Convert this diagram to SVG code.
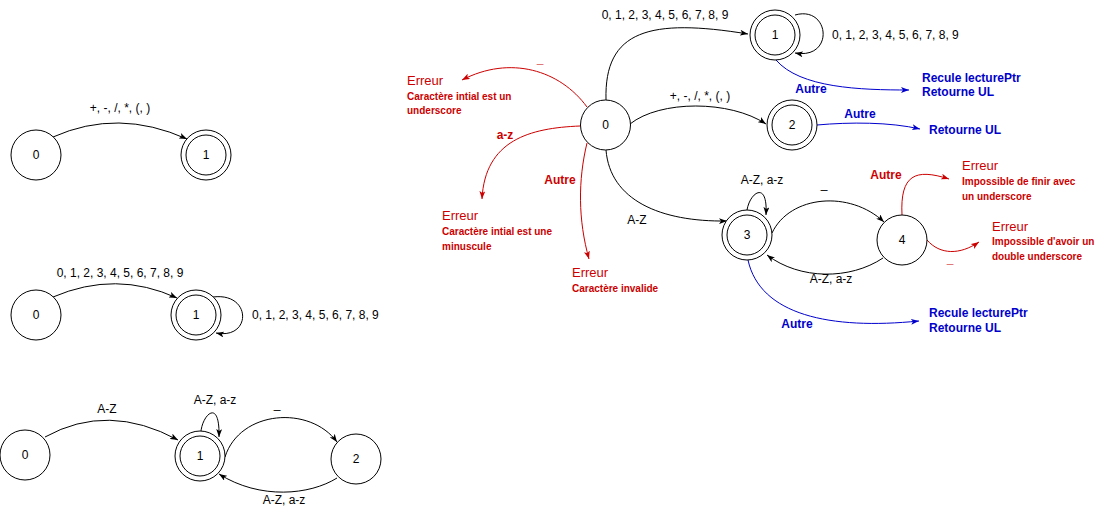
<svg xmlns="http://www.w3.org/2000/svg" width="1111" height="510" viewBox="0 0 1111 510">
<style>
  .bg { fill: #ffffff; }
  .st { fill: #ffffff; stroke: #000000; stroke-width: 1; }
  .in { fill: none; stroke: #000000; stroke-width: 1; }
  .nl { font-family: "Liberation Sans", Arial, sans-serif; font-size: 12px; fill: #000000; text-anchor: middle; }
  .e { fill: none; stroke: #000000; stroke-width: 1; marker-end: url(#ab); }
  .er { fill: none; stroke: #CC0000; stroke-width: 1; marker-end: url(#ar); }
  .eb { fill: none; stroke: #0000CC; stroke-width: 1; marker-end: url(#au); }
  .lb { font-family: "Liberation Sans", Arial, sans-serif; font-size: 12px; fill: #000000; text-anchor: middle; }
  .lr { font-family: "Liberation Sans", Arial, sans-serif; font-size: 12px; font-weight: bold; fill: #CC0000; text-anchor: middle; }
  .lu { font-family: "Liberation Sans", Arial, sans-serif; font-size: 12px; font-weight: bold; fill: #0000CC; text-anchor: middle; }
  .tu { font-family: "Liberation Sans", Arial, sans-serif; font-size: 12px; font-weight: bold; fill: #0000CC; }
  .th { font-family: "Liberation Sans", Arial, sans-serif; font-size: 13px; fill: #CC0000; }
  .ts { font-family: "Liberation Sans", Arial, sans-serif; font-size: 10px; font-weight: bold; fill: #CC0000; }
</style>
<defs>
  <marker id="ab" viewBox="0 0 8 6" refX="8" refY="3" markerWidth="8" markerHeight="6" markerUnits="userSpaceOnUse" orient="auto">
    <path d="M0,0 L8,3 L0,6 L2,3 z" fill="#000000"/>
  </marker>
  <marker id="ar" viewBox="0 0 8 6" refX="8" refY="3" markerWidth="8" markerHeight="6" markerUnits="userSpaceOnUse" orient="auto">
    <path d="M0,0 L8,3 L0,6 L2,3 z" fill="#CC0000"/>
  </marker>
  <marker id="au" viewBox="0 0 8 6" refX="8" refY="3" markerWidth="8" markerHeight="6" markerUnits="userSpaceOnUse" orient="auto">
    <path d="M0,0 L8,3 L0,6 L2,3 z" fill="#0000CC"/>
  </marker>
</defs>
<rect class="bg" x="0" y="0" width="1111" height="510"/>

<g id="connectors">
  <!-- diagram A -->
  <path class="e" d="M53,137 Q118,108 187,139"/>
  <text class="lb" x="120" y="112">+, -, /, *, (, )</text>
  <!-- diagram B -->
  <path class="e" d="M53,297 Q116,270 177,298"/>
  <text class="lb" x="120" y="277">0, 1, 2, 3, 4, 5, 6, 7, 8, 9</text>
  <path class="e" d="M213,297 C252,292 252,340 216,333"/>
  <text class="lb" x="252" y="319" style="text-anchor:start">0, 1, 2, 3, 4, 5, 6, 7, 8, 9</text>
  <!-- diagram C -->
  <path class="e" d="M45,437 Q108,402 178,440"/>
  <text class="lb" x="107" y="413">A-Z</text>
  <path class="e" d="M201,431 C203,414 220,398 219,437"/>
  <text class="lb" x="215" y="404">A-Z, a-z</text>
  <path class="e" d="M225,457 C240,410 310,405 337,442"/>
  <text class="lb" x="277" y="408">_</text>
  <path class="e" d="M337,478 C310,495 260,500 219,474"/>
  <text class="lb" x="284" y="504">A-Z, a-z</text>

  <!-- main diagram -->
  <path class="e" d="M606,100 C604,30 650,18 748,34"/>
  <text class="lb" x="665" y="19">0, 1, 2, 3, 4, 5, 6, 7, 8, 9</text>
  <path class="e" d="M795,15 C830,5 835,60 795,53"/>
  <text class="lb" x="832" y="39" style="text-anchor:start">0, 1, 2, 3, 4, 5, 6, 7, 8, 9</text>
  <path class="eb" d="M776,60 C800,88 860,90 909,90"/>
  <text class="lu" x="811" y="93">Autre</text>
  <path class="e" d="M630,124 C660,100 730,100 766,124"/>
  <text class="lb" x="700" y="100">+, -, /, *, (, )</text>
  <path class="eb" d="M817,125 C850,122 890,122 920,129"/>
  <text class="lu" x="860" y="118">Autre</text>
  <path class="e" d="M606,150 C610,200 660,222 727,221"/>
  <text class="lb" x="637" y="224">A-Z</text>
  <path class="e" d="M747,210 C750,192 768,180 766,215"/>
  <text class="lb" x="762" y="184">A-Z, a-z</text>
  <path class="e" d="M772,233 C790,195 850,190 884,222"/>
  <text class="lb" x="824" y="188">_</text>
  <path class="e" d="M883,258 C850,280 800,280 767,255"/>
  <text class="lb" x="831" y="283">A-Z, a-z</text>
  <path class="eb" d="M748,260 C760,315 830,330 919,321"/>
  <text class="lu" x="797" y="328">Autre</text>
  <path class="er" d="M902,215 C900,175 915,168 949,179"/>
  <text class="lr" x="886" y="179">Autre</text>
  <path class="er" d="M927,240 C940,255 960,255 979,242"/>
  <text class="lr" x="950" y="263">_</text>
  <path class="er" d="M587,107 C560,70 510,55 462,80"/>
  <text class="lr" x="540" y="63">_</text>
  <path class="er" d="M580,126 C530,128 485,140 482,199"/>
  <text class="lr" x="505" y="139">a-z</text>
  <path class="er" d="M587,143 C578,180 578,220 589,259"/>
  <text class="lr" x="560" y="184">Autre</text>
</g>

<!-- diagram A nodes -->
<g id="a-node-0"><circle class="st" cx="36" cy="155" r="25"/><text class="nl" x="36" y="159">0</text></g>
<g id="a-node-1"><circle class="st" cx="206" cy="155" r="25"/><circle class="in" cx="206" cy="155" r="20"/><text class="nl" x="206" y="159">1</text></g>
<!-- diagram B nodes -->
<g id="b-node-0"><circle class="st" cx="36" cy="315" r="25"/><text class="nl" x="36" y="319">0</text></g>
<g id="b-node-1"><circle class="st" cx="196" cy="315" r="25"/><circle class="in" cx="196" cy="315" r="20"/><text class="nl" x="196" y="319">1</text></g>
<!-- diagram C nodes -->
<g id="c-node-0"><circle class="st" cx="25" cy="455" r="25"/><text class="nl" x="25" y="459">0</text></g>
<g id="c-node-1"><circle class="st" cx="200" cy="456" r="25"/><circle class="in" cx="200" cy="456" r="20"/><text class="nl" x="200" y="460">1</text></g>
<g id="c-node-2"><circle class="st" cx="356" cy="459" r="25"/><text class="nl" x="356" y="463">2</text></g>

<!-- main diagram nodes -->
<g id="m-node-0"><circle class="st" cx="605.5" cy="125" r="25"/><text class="nl" x="605.5" y="129">0</text></g>
<g id="m-node-1"><circle class="st" cx="775" cy="35" r="25"/><circle class="in" cx="775" cy="35" r="20"/><text class="nl" x="775" y="39">1</text></g>
<g id="m-node-2"><circle class="st" cx="792" cy="125" r="25"/><circle class="in" cx="792" cy="125" r="20"/><text class="nl" x="792" y="129">2</text></g>
<g id="m-node-3"><circle class="st" cx="747" cy="235" r="25"/><circle class="in" cx="747" cy="235" r="20"/><text class="nl" x="747" y="239">3</text></g>
<g id="m-node-4"><circle class="st" cx="902" cy="240" r="25"/><text class="nl" x="902" y="244">4</text></g>

<!-- terminal texts -->
<g id="out-1"><text class="tu" x="922" y="81.5">Recule lecturePtr</text><text class="tu" x="922" y="96">Retourne UL</text></g>
<g id="out-2"><text class="tu" x="929" y="134">Retourne UL</text></g>
<g id="out-3"><text class="tu" x="929" y="317">Recule lecturePtr</text><text class="tu" x="929" y="331.5">Retourne UL</text></g>
<g id="err-underscore"><text class="th" x="407" y="85">Erreur</text><text class="ts" x="407" y="99.5">Caractère intial est un</text><text class="ts" x="407" y="114">underscore</text></g>
<g id="err-minuscule"><text class="th" x="442" y="220">Erreur</text><text class="ts" x="442" y="234.5">Caractère intial est une</text><text class="ts" x="442" y="249.5">minuscule</text></g>
<g id="err-invalide"><text class="th" x="572" y="277">Erreur</text><text class="ts" x="572" y="292">Caractère invalide</text></g>
<g id="err-fin"><text class="th" x="962" y="170">Erreur</text><text class="ts" x="962" y="185">Impossible de finir avec</text><text class="ts" x="962" y="199.5">un underscore</text></g>
<g id="err-double"><text class="th" x="992" y="230.5">Erreur</text><text class="ts" x="992" y="244.5">Impossible d'avoir un</text><text class="ts" x="992" y="259.5">double underscore</text></g>
</svg>
